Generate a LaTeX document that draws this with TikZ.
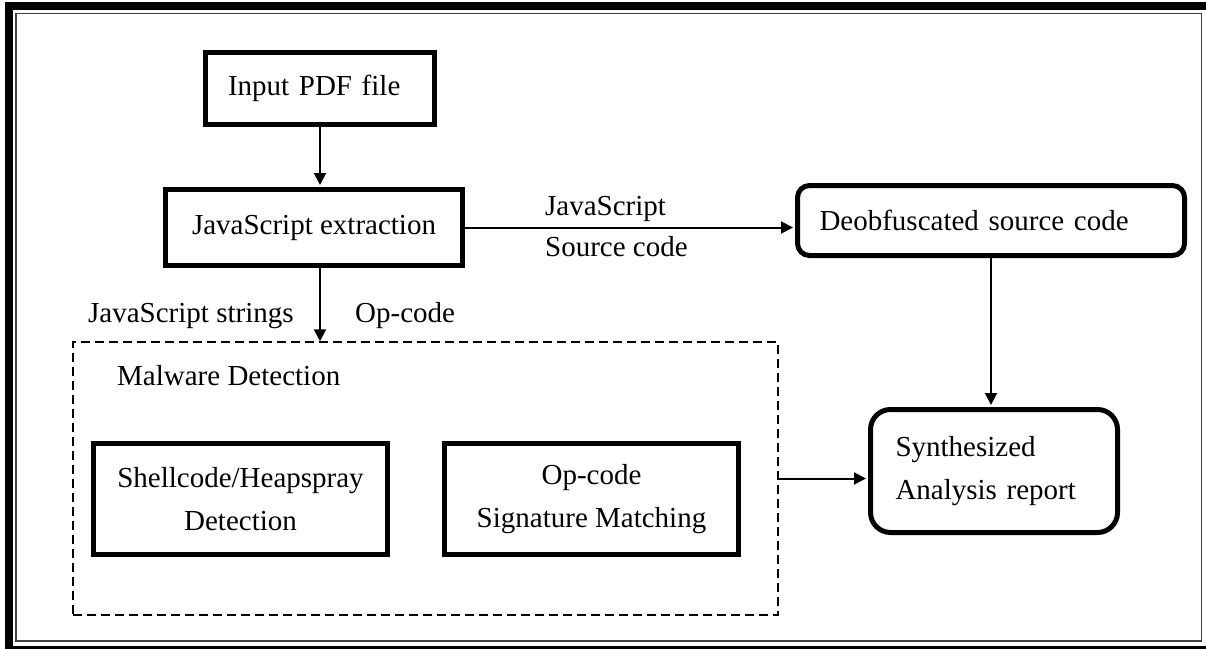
\documentclass[tikz,border=0pt]{standalone}
\usepackage{fontspec}
\setmainfont{Liberation Serif}
\usetikzlibrary{arrows.meta}

\begin{document}
\begin{tikzpicture}[x=1pt,y=-1pt,
  every node/.style={font=\fontsize{29}{43}\selectfont},
  box/.style={draw, line width=5pt, inner sep=0pt, align=center},
  rbox/.style={draw, line width=5pt, inner sep=0pt, inner xsep=24pt, align=left},
  group/.style={draw, line width=1.5pt, dash pattern=on 9pt off 5pt, inner sep=0pt},
  lbl/.style={inner sep=0pt, anchor=base west},
  conn/.style={line width=2pt, -{Triangle[length=12pt,width=12pt]}, shorten >=2pt}
]
\path[use as bounding box] (0,0) rectangle (1206,648);
\fill[white] (0,0) rectangle (1206,648);

% page frame: heavy outer rule and thin inner rule
\draw[line width=8pt] (9,5.5) rectangle (1210,650);
\draw[line width=1.5pt, black!75] (16,13.3) rectangle (1201.5,641);

% process boxes
\node[box, text width=184pt, inner xsep=22.5pt, minimum height=72pt, align=left] (inp) at (320,88.5) {Input PDF file};
\node[box, minimum width=297pt, minimum height=76pt] (jse) at (314,227.5) {JavaScript extraction};
\node[rbox, rounded corners=12pt, text width=343pt, inner xsep=22pt, minimum height=70pt] (deob) at (991,220.5) {Deobfuscated source code};
\node[rbox, rounded corners=20pt, text width=197pt, inner xsep=25pt, minimum height=123pt] (syn) at (994,471) {Synthesized\\Analysis report};

% malware detection group
\node[group, minimum width=705pt, minimum height=273pt] (md) at (425.5,478.5) {};
\node[box, minimum width=294pt, minimum height=111pt] (shell) at (240.5,499) {Shellcode/Heapspray\\Detection};
\node[box, minimum width=294pt, minimum height=111pt] (opc) at (591.5,499) {Op-code\\Signature Matching};

% labels
\node[lbl] (mdl) at (117,385) {Malware Detection};
\node[lbl] (jss) at (88,322) {JavaScript strings};
\node[lbl] (opl) at (355,322) {Op-code};
\node[lbl] (jsl) at (545,215) {JavaScript};
\node[lbl] (srcl) at (545,256) {Source code};

% connectors
\draw[conn] (inp.south) -- (inp.south |- jse.north);
\draw[conn] (jse.east) -- (jse.east -| deob.west);
\draw[conn] (deob.south) -- (deob.south |- syn.north);
\draw[conn, shorten >=0pt] (inp.south |- jse.south) -- (inp.south |- md.north);
\draw[conn] (md.east) -- (md.east -| syn.west);
\end{tikzpicture}
\end{document}
